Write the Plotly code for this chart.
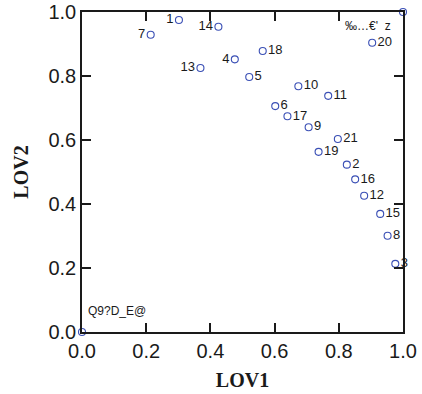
import plotly.graph_objects as go

# Loadings of each item on the two latent dimensions
labels = ["1", "2", "3", "4", "5", "6", "7", "8", "9", "10", "11",
          "12", "13", "14", "15", "16", "17", "18", "19", "20", "21"]
lov1 = [0.302, 0.825, 0.976, 0.476, 0.521, 0.602, 0.214, 0.952, 0.706, 0.674, 0.767,
        0.879, 0.369, 0.425, 0.929, 0.851, 0.640, 0.563, 0.737, 0.904, 0.797]
lov2 = [0.975, 0.523, 0.213, 0.852, 0.797, 0.706, 0.929, 0.301, 0.640, 0.768, 0.738,
        0.426, 0.825, 0.954, 0.369, 0.477, 0.674, 0.878, 0.563, 0.904, 0.603]
left_labelled = {"1", "4", "7", "13", "14"}

# Reference corners
corner_labels = ["Q9?D_E@", "‰…€'\u00a0 z"]
corner_x = [0.0, 1.0]
corner_y = [0.0, 1.0]

marker_color = "#3a4fb5"
ink = "#1a1a1a"
sans = "Liberation Sans, Arial, sans-serif"
serif = "Liberation Serif, Times New Roman, serif"

positions = ["middle left" if t in left_labelled else "middle right" for t in labels]

fig = go.Figure()
fig.add_trace(go.Scatter(
    x=lov1, y=lov2, mode="markers+text", text=labels, textposition=positions,
    textfont=dict(family=sans, size=13, color=ink),
    marker=dict(symbol="circle-open", size=7, color=marker_color, line=dict(width=1.1)),
    cliponaxis=False, showlegend=False,
))
fig.add_trace(go.Scatter(
    x=corner_x, y=corner_y, mode="markers",
    marker=dict(symbol="circle-open", size=7, color=marker_color, line=dict(width=1.1)),
    cliponaxis=False, showlegend=False,
))
fig.add_annotation(x=corner_x[0], y=corner_y[0], text=corner_labels[0], showarrow=False,
                   xanchor="left", yanchor="bottom", xshift=4, yshift=12,
                   font=dict(family=sans, size=12, color=ink))
fig.add_annotation(x=corner_x[1], y=corner_y[1], text=corner_labels[1], showarrow=False,
                   xanchor="right", yanchor="top", xshift=-10, yshift=-5,
                   font=dict(family=sans, size=12, color=ink))

axis_common = dict(
    range=[0, 1], tickvals=[0, 0.2, 0.4, 0.6, 0.8, 1.0],
    ticktext=["0.0", "0.2", "0.4", "0.6", "0.8", "1.0"],
    ticks="inside", ticklen=9, tickwidth=1.5, tickcolor=ink,
    showline=True, linecolor=ink, linewidth=1.5, mirror="ticks",
    showgrid=False, zeroline=False, automargin=False,
    tickfont=dict(family=sans, size=20, color=ink),
)

fig.update_layout(
    width=422, height=394,
    margin=dict(l=82, r=19, t=12, b=62, autoexpand=False),
    paper_bgcolor="white", plot_bgcolor="white",
    xaxis=dict(**axis_common,
               title=dict(text="<b>LOV1</b>", standoff=12,
                          font=dict(family=serif, size=20, color=ink))),
    yaxis=dict(**axis_common,
               title=dict(text="<b>LOV2</b>", standoff=14,
                          font=dict(family=serif, size=20, color=ink))),
)

fig.write_html("out.html")
